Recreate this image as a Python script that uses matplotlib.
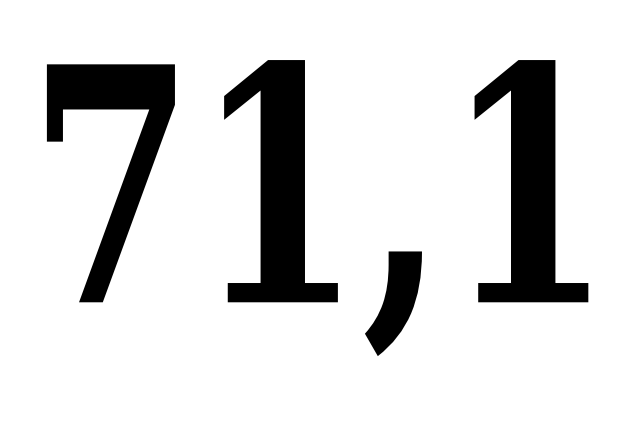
import matplotlib
matplotlib.use("Agg")
import matplotlib.pyplot as plt
from matplotlib import patheffects
from matplotlib.transforms import Affine2D

# the single number shown
value = 71.1
label = f"{value:.1f}".replace(".", ",")


class StretchY(patheffects.AbstractPathEffect):
    # make the glyphs taller around a centre y (pixels), the face is wider than the reference
    def __init__(self, sy, cy):
        super().__init__()
        self.sy = sy
        self.cy = cy

    def draw_path(self, renderer, gc, tpath, affine, rgbFace=None):
        stretch = Affine2D().translate(0, -self.cy).scale(1, self.sy).translate(0, self.cy)
        renderer.draw_path(gc, tpath, affine + stretch, rgbFace)


fig = plt.figure(figsize=(6.4, 4.27), dpi=100)
fig.patch.set_facecolor("white")
ax = fig.add_axes([0, 0, 1, 1])
ax.set_axis_off()
ax.set_xlim(0, 1)
ax.set_ylim(0, 1)

squeeze = 0.735
ax.text(0.5, 0.50, label, ha="center", va="center", fontsize=235 * squeeze,
        family="DejaVu Serif", weight="bold", color="black",
        path_effects=[StretchY(1 / squeeze, 0.50 * 427)])

plt.savefig("out.png", dpi=100, facecolor="white")
